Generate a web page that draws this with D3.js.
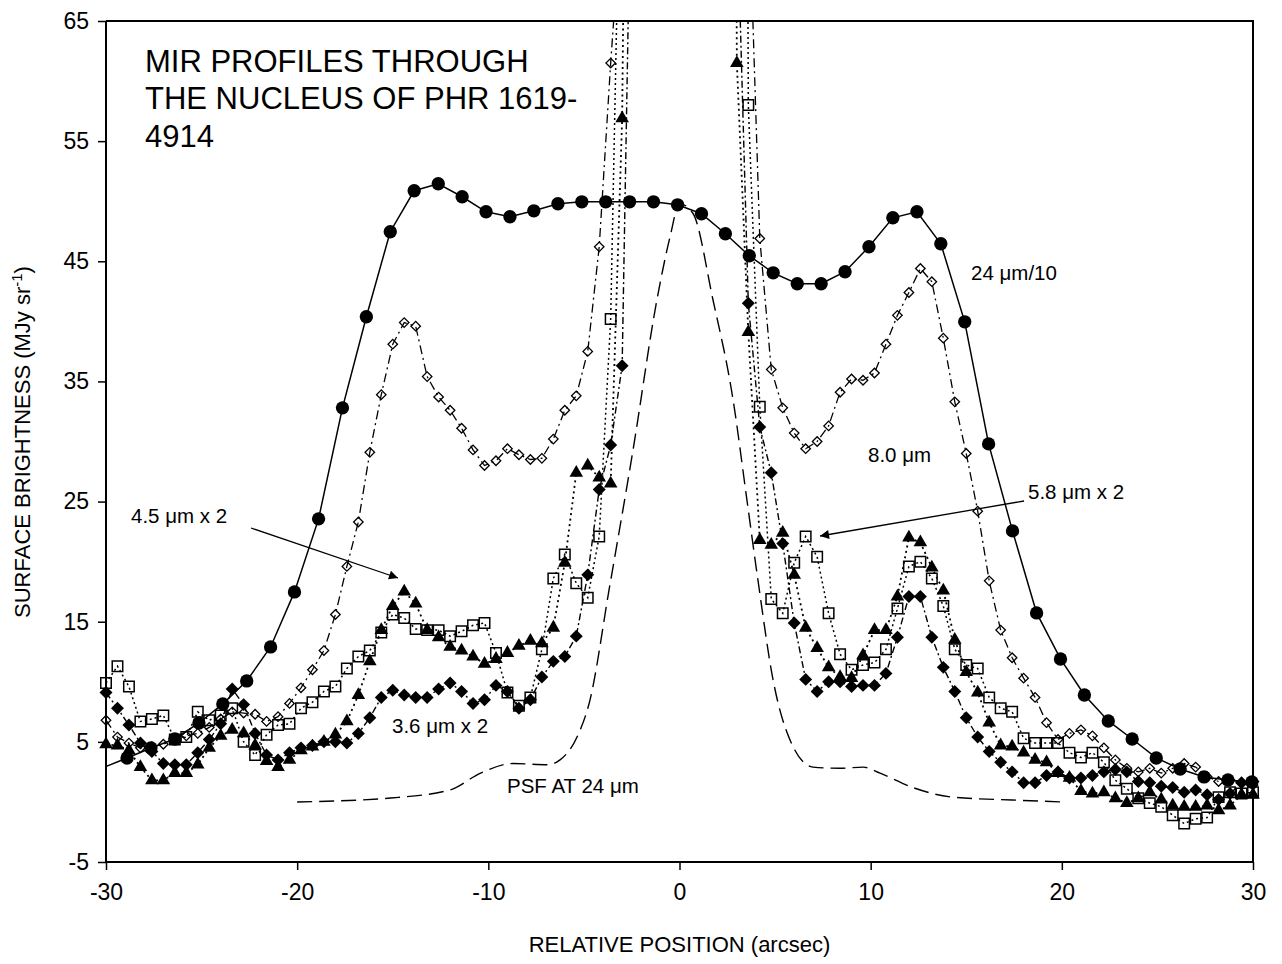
<!DOCTYPE html>
<html><head><meta charset="utf-8">
<script src="https://cdn.jsdelivr.net/npm/d3@7"></script>
<style>
body{margin:0;background:#fff}
svg text{font-family:"Liberation Sans",Arial,sans-serif;fill:#000}
</style>
</head><body>
<svg id="chart" width="1282" height="964"></svg>
<script>
// ---------- DATA ----------
const xTicks = [-30, -20, -10, 0, 10, 20, 30];
const yTicks = [-5, 5, 15, 25, 35, 45, 55, 65];

// 24 micron (divided by 10) positions and values
const pos24 = [-30.15, -28.9, -27.65, -26.4, -25.14, -23.89, -22.64, -21.39, -20.14, -18.88, -17.63,
  -16.38, -15.13, -13.88, -12.62, -11.37, -10.12, -8.87, -7.62, -6.36, -5.11,
  -3.86, -2.61, -1.36, -0.1, 1.15, 2.4, 3.65, 4.9, 6.16, 7.41,
  8.66, 9.91, 11.16, 12.42, 13.67, 14.92, 16.17, 17.42, 18.68, 19.93,
  21.18, 22.43, 23.68, 24.94, 26.19, 27.44, 28.69, 29.94];
const val24 = [2.85, 3.66, 4.49, 5.24, 6.57, 8.16, 10.07, 12.9, 17.48, 23.56, 32.8,
  40.38, 47.46, 50.87, 51.45, 50.37, 49.12, 48.71, 49.2, 49.79, 49.95,
  49.95, 49.95, 49.95, 49.7, 48.96, 47.29, 45.46, 44.04, 43.13, 43.13,
  44.13, 46.21, 48.62, 49.12, 46.46, 39.96, 29.8, 22.56, 15.73, 11.9,
  8.9, 6.74, 5.24, 3.66, 2.74, 2.08, 1.83, 1.66];

// IRAC sampling positions (arcsec)
const iracPos = [-30, -29.4, -28.8, -28.2, -27.6, -27, -26.4, -25.8, -25.2, -24.6,
  -24, -23.4, -22.8, -22.2, -21.6, -21, -20.4, -19.8, -19.2, -18.6,
  -18, -17.4, -16.8, -16.2, -15.6, -15, -14.4, -13.8, -13.2, -12.6,
  -12, -11.4, -10.8, -10.2, -9.6, -9, -8.4, -7.8, -7.2, -6.6,
  -6, -5.4, -4.8, -4.2, -3.6, -3, -2.4, -1.8, -1.2, -0.6,
  0, 0.6, 1.2, 1.8, 2.4, 3, 3.6, 4.2, 4.8, 5.4,
  6, 6.6, 7.2, 7.8, 8.4, 9, 9.6, 10.2, 10.8, 11.4,
  12, 12.6, 13.2, 13.8, 14.4, 15, 15.6, 16.2, 16.8, 17.4,
  18, 18.6, 19.2, 19.8, 20.4, 21, 21.6, 22.2, 22.8, 23.4,
  24, 24.6, 25.2, 25.8, 26.4, 27, 27.6, 28.2, 28.8, 29.4,
  30];

const val80 = [6.8, 5.4, 4.9, 4.5, 4.6, 4.8, 5.2, 5.5, 5.7, 6.2,
  6.9, 7.5, 7.4, 7.3, 6.7, 7.1, 8.2, 9.5, 11.0, 12.6,
  15.6, 19.6, 23.3, 29.1, 33.9, 38.1, 39.9, 39.6, 35.4, 33.7,
  32.6, 31.1, 29.3, 28.0, 28.4, 29.4, 28.9, 28.5, 28.6, 30.2,
  32.6, 33.8, 37.5, 46.2, 61.5, 75, 300, 300, 300, 300,
  300, 300, 300, 300, 300, 300, 77, 46.9, 36.0, 32.8,
  30.7, 29.4, 30.0, 31.3, 34.1, 35.2, 35.1, 35.7, 38.1, 40.5,
  42.4, 44.4, 43.3, 38.6, 33.3, 29.0, 24.2, 18.4, 14.3, 12.0,
  10.3, 8.7, 6.6, 5.2, 5.7, 6.0, 5.5, 4.5, 3.5, 2.8,
  2.5, 2.8, 2.4, 2.8, 3.2, 2.9, 2.1, 1.7, 1.8, 1.6,
  1.4];

const val58 = [9.9, 11.3, 9.6, 6.7, 6.9, 7.2, 5.2, 5.4, 7.5, 6.8,
  7.2, 7.8, 5.0, 3.9, 5.6, 6.4, 6.5, 7.8, 8.3, 9.2,
  9.6, 11.1, 12.1, 12.6, 14.1, 15.6, 15.3, 14.4, 14.3, 14.3,
  13.8, 14.2, 14.7, 14.9, 12.4, 9.1, 8.0, 8.7, 12.7, 18.6,
  20.6, 18.2, 17.0, 22.1, 40.2, 88, 300, 300, 300, 300,
  300, 300, 300, 300, 300, 300, 58.0, 32.9, 16.9, 15.7,
  19.9, 22.1, 20.4, 15.7, 12.3, 11.0, 11.4, 11.6, 12.7, 16.1,
  19.6, 20.0, 18.6, 16.3, 12.7, 11.4, 11.1, 8.7, 7.8, 7.5,
  5.3, 4.9, 4.9, 4.9, 4.1, 3.7, 4.1, 3.3, 1.8, 1.1,
  0.3, -0.1, -0.4, -1.1, -1.8, -1.4, -1.3, 0.4, 0.8, 0.7,
  0.8];

const val45 = [4.8, 4.7, 4.3, 2.9, 1.8, 1.8, 2.4, 2.4, 3.1, 4.5,
  5.5, 6.0, 5.7, 4.7, 3.4, 2.9, 3.5, 4.3, 4.6, 5.0,
  5.6, 6.7, 8.9, 11.7, 14.3, 16.3, 17.5, 16.5, 14.3, 13.7,
  12.9, 12.6, 12.1, 11.5, 11.9, 12.4, 13.0, 13.4, 13.2, 14.5,
  19.9, 27.4, 28.0, 27.0, 26.5, 56.9, 150, 300, 300, 300,
  300, 300, 300, 300, 300, 61.5, 39.1, 21.8, 21.4, 22.4,
  18.9, 14.5, 12.8, 11.2, 10.4, 10.3, 12.2, 14.3, 14.3, 17.1,
  22.0, 21.6, 19.5, 17.6, 13.5, 10.8, 9.1, 6.6, 4.7, 4.6,
  4.1, 3.5, 3.3, 2.4, 2.0, 0.9, 0.7, 0.8, 0.3, -0.1,
  0.3, 0.8, 0.2, -0.3, -0.4, -0.4, -0.3, -0.7, -0.3, 0.6,
  0.6];

const val36 = [9.1, 7.8, 6.4, 4.9, 4.2, 3.2, 3.1, 3.1, 4.1, 5.2,
  6.5, 9.4, 8.1, 5.7, 3.9, 3.5, 4.1, 4.5, 4.7, 5.0,
  5.0, 4.9, 5.7, 7.0, 8.7, 9.3, 8.9, 8.7, 8.7, 9.4,
  9.9, 9.2, 8.2, 8.5, 9.7, 9.2, 7.8, 8.5, 10.4, 11.7,
  12.1, 13.8, 18.9, 26.0, 29.7, 36.3, 91, 300, 300, 300,
  300, 300, 300, 300, 300, 75, 41.5, 31.2, 27.4, 21.5,
  14.9, 10.2, 9.2, 10.0, 10.0, 9.6, 9.7, 9.7, 10.7, 13.7,
  17.1, 17.1, 13.7, 11.2, 9.2, 7.0, 5.4, 4.2, 3.3, 2.5,
  1.6, 1.6, 2.2, 2.5, 2.0, 2.0, 2.2, 2.5, 2.7, 2.5,
  1.7, 1.6, 1.3, 1.2, 0.8, 1.0, 0.6, 0.2, 0.7, 1.6,
  1.7];

// PSF at 24 micron
const psfPos = [-20.0, -15.1, -12.0, -10.4, -8.7, -6.9, -6.25, -5.36, -4.68, -3.69,
  -2.43, -1.18, -0.5, 0.0, 0.7, 1.75, 2.8, 3.53, 4.1, 4.89,
  5.94, 6.98, 8.4, 9.6, 10.49, 12.2, 14.3, 17.4, 20.0];
const psfVal = [0.0, 0.33, 1.0, 2.4, 3.2, 3.1, 3.5, 5.4, 8.5, 17.6,
  29.3, 41.8, 47.0, 49.8, 49.0, 41.8, 33.5, 25.1, 18.5, 10.2,
  4.6, 2.9, 2.8, 2.9, 2.4, 1.2, 0.4, 0.16, 0.0];

// ---------- CHART ----------
const W = 1282, H = 964;
const m = {left: 106, right: 1253, top: 21, bottom: 862};
const svg = d3.select("#chart");
const x = d3.scaleLinear().domain([-30, 30]).range([m.left, m.right]);
const y = d3.scaleLinear().domain([-5, 65]).range([m.bottom, m.top]);

const defs = svg.append("defs");
defs.append("clipPath").attr("id", "clipPlot").append("rect")
  .attr("x", m.left).attr("y", m.top).attr("width", m.right - m.left).attr("height", m.bottom - m.top);
defs.append("clipPath").attr("id", "clipTop").append("rect")
  .attr("x", 0).attr("y", m.top).attr("width", W).attr("height", m.bottom - m.top);
defs.append("marker").attr("id", "arrow").attr("viewBox", "0 0 10 10")
  .attr("refX", 10).attr("refY", 5).attr("markerWidth", 14).attr("markerHeight", 9)
  .attr("markerUnits", "userSpaceOnUse").attr("orient", "auto")
  .append("path").attr("d", "M0,0L10,5L0,10Z").attr("fill", "#000");

const zip = (xs, ys) => xs.map((v, i) => [v, ys[i]]);
const line = d3.line().x(d => x(d[0])).y(d => y(d[1]));

const gLines = svg.append("g").attr("clip-path", "url(#clipPlot)");
const gMarks = svg.append("g").attr("clip-path", "url(#clipTop)");

// PSF
gLines.append("path").datum(zip(psfPos, psfVal))
  .attr("d", d3.line().x(d => x(d[0])).y(d => y(d[1])).curve(d3.curveMonotoneX))
  .attr("fill", "none").attr("stroke", "#000").attr("stroke-width", 1.4)
  .attr("stroke-dasharray", "15,7");

const series = [
  {vals: val36, pos: iracPos, dash: "7,3,2,3", width: 1.4, sym: "diamond", fill: "#000", size: 84, sw: 0},
  {vals: val45, pos: iracPos, dash: "2,3.5", width: 1.8, sym: "triangle", fill: "#000", size: 80, sw: 0},
  {vals: val58, pos: iracPos, dash: "2,3", width: 1.5, sym: "square", fill: "none", size: 110, sw: 1.5},
  {vals: val80, pos: iracPos, dash: "9,4,2,4", width: 1.3, sym: "diamond", fill: "none", size: 45, sw: 1.3},
  {vals: val24, pos: pos24, dash: null, width: 1.5, sym: "circle", fill: "#000", size: 140, sw: 0}
];

const symType = {diamond: d3.symbolSquare, square: d3.symbolSquare, triangle: d3.symbolTriangle, circle: d3.symbolCircle};

series.forEach(s => {
  const pts = zip(s.pos, s.vals);
  const p = gLines.append("path").datum(pts).attr("d", line)
    .attr("fill", "none").attr("stroke", "#000").attr("stroke-width", s.width);
  if (s.dash) p.attr("stroke-dasharray", s.dash);
  const gen = d3.symbol().type(symType[s.sym]).size(s.size);
  gMarks.selectAll(null).data(pts.filter(d => d[0] >= -30.05 && d[1] < 70)).join("path")
    .attr("d", gen)
    .attr("transform", d => `translate(${x(d[0])},${y(d[1])})` + (s.sym === "diamond" ? " rotate(45)" : ""))
    .attr("fill", s.fill === "none" ? "none" : s.fill)
    .attr("stroke", "#000").attr("stroke-width", s.sw);
});

// Axes
const axisFont = 23;
const fmt = d => String(d);
const gy = svg.append("g").attr("transform", `translate(${m.left},0)`)
  .call(d3.axisLeft(y).tickValues(yTicks).tickSize(8).tickPadding(9).tickFormat(fmt));
const gx = svg.append("g").attr("transform", `translate(0,${m.bottom})`)
  .call(d3.axisBottom(x).tickValues(xTicks).tickSize(8).tickPadding(14).tickFormat(fmt));
[gx, gy].forEach(g => {
  g.select(".domain").attr("stroke", "#000").attr("stroke-width", 2);
  g.selectAll(".tick line").attr("stroke", "#000").attr("stroke-width", 1.5);
  g.selectAll(".tick text").attr("font-size", axisFont).attr("font-family", "Liberation Sans, Arial, sans-serif").attr("fill", "#000");
});
gy.select(".domain").attr("d", `M0,${m.top}V${m.bottom}`);
gx.select(".domain").attr("d", `M${m.left},0H${m.right}`);
// frame top & right
svg.append("path").attr("d", `M${m.left},${m.top}H${m.right}V${m.bottom}`)
  .attr("fill", "none").attr("stroke", "#000").attr("stroke-width", 2);

// Axis titles
svg.append("text").attr("x", (m.left + m.right) / 2).attr("y", 952)
  .attr("text-anchor", "middle").attr("font-size", 22).text("RELATIVE POSITION (arcsec)");
const yt = svg.append("text").attr("transform", "translate(30,442) rotate(-90)")
  .attr("text-anchor", "middle").attr("font-size", 22);
yt.append("tspan").text("SURFACE BRIGHTNESS (MJy sr");
yt.append("tspan").attr("dy", -8).attr("font-size", 15).text("-1");
yt.append("tspan").attr("dy", 8).text(")");

// Title
const title = svg.append("text").attr("font-size", 31);
[["MIR PROFILES THROUGH", 72], ["THE NUCLEUS OF PHR 1619-", 109], ["4914", 147]].forEach(([t, yy]) =>
  title.append("tspan").attr("x", 145).attr("y", yy).text(t));

// Annotations
const ann = [
  ["24 \u03bcm/10", 971, 280],
  ["8.0 \u03bcm", 868, 462],
  ["5.8 \u03bcm x 2", 1028, 499],
  ["4.5 \u03bcm x 2", 131, 523],
  ["3.6 \u03bcm x 2", 392, 733],
  ["PSF AT 24 \u03bcm", 507, 793]
];
ann.forEach(([t, xx, yy]) => svg.append("text").attr("x", xx).attr("y", yy).attr("font-size", 20.5).text(t));

svg.append("line").attr("x1", 251).attr("y1", 528).attr("x2", 398).attr("y2", 578)
  .attr("stroke", "#000").attr("stroke-width", 1.3).attr("marker-end", "url(#arrow)");
svg.append("line").attr("x1", 1024).attr("y1", 501).attr("x2", 820).attr("y2", 536)
  .attr("stroke", "#000").attr("stroke-width", 1.3).attr("marker-end", "url(#arrow)");
</script>
</body></html>
